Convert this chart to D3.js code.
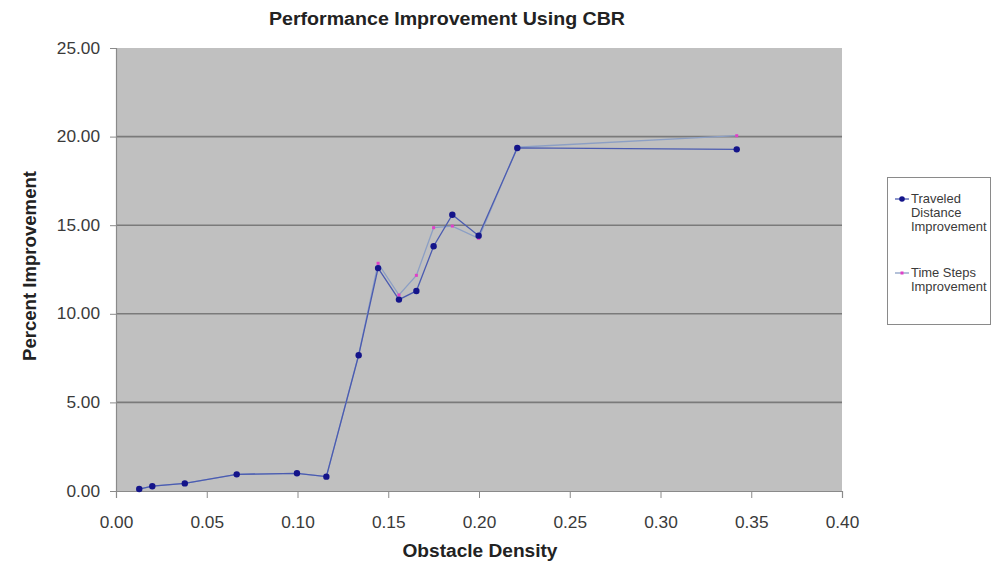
<!DOCTYPE html>
<html>
<head>
<meta charset="utf-8">
<script src="https://cdn.jsdelivr.net/npm/d3@7"></script>
<style>
  html, body { margin: 0; padding: 0; background: #fff; }
  svg { display: block; font-family: "Liberation Sans", Arial, sans-serif; }
</style>
</head>
<body>
<svg id="chart" width="996" height="563"></svg>
<script>
// Obstacle density of each test run
const density = [0.0128, 0.020, 0.0379, 0.0665, 0.0997, 0.1159, 0.1337, 0.1444,
                 0.1559, 0.1655, 0.175, 0.1853, 0.1998, 0.2211, 0.342];
// Percent improvement in traveled distance
const distanceImprovement = [0.11, 0.27, 0.43, 0.94, 1.00, 0.81, 7.66, 12.58,
                             10.80, 11.29, 13.81, 15.59, 14.41, 19.36, 19.28];
// Percent improvement in time steps
const timeStepsImprovement = [0.11, 0.27, 0.43, 0.94, 1.00, 0.81, 7.70, 12.85,
                              11.06, 12.17, 14.86, 14.95, 14.26, 19.40, 20.05];
const xTicks = [0, 0.05, 0.10, 0.15, 0.20, 0.25, 0.30, 0.35, 0.40];
const yTicks = [0, 5, 10, 15, 20, 25];
const seriesNames = [["Traveled", "Distance", "Improvement"], ["Time Steps", "Improvement"]];

const svg = d3.select("#chart");
const plot = { left: 116, top: 48, right: 842, bottom: 491 };
const TEXT_SX = 1.08; // labels are drawn slightly wide

const x = d3.scaleLinear().domain([0, 0.4]).range([plot.left, plot.right]);
const y = d3.scaleLinear().domain([0, 25]).range([plot.bottom, plot.top]);

// widen a text element horizontally about its anchor point
function widen(sel, sx) {
  sel.each(function () {
    const ax = +(this.getAttribute("x") || 0);
    this.setAttribute("transform", `translate(${ax},0) scale(${sx},1) translate(${-ax},0)`);
  });
}

// plot area
svg.append("rect")
  .attr("x", plot.left).attr("y", plot.top)
  .attr("width", plot.right - plot.left).attr("height", plot.bottom - plot.top)
  .attr("fill", "#c0c0c0");

// horizontal gridlines
svg.append("g").selectAll("line")
  .data(yTicks.filter(d => d > 0 && d < 25))
  .join("line")
  .attr("x1", plot.left).attr("x2", plot.right)
  .attr("y1", d => y(d)).attr("y2", d => y(d))
  .attr("stroke", "#7a7a7a").attr("stroke-width", 1.6);

// axes
const yAxis = d3.axisLeft(y).tickValues(yTicks).tickFormat(d3.format(".2f")).tickSize(6).tickPadding(10);
const xAxis = d3.axisBottom(x).tickValues(xTicks).tickFormat(d3.format(".2f")).tickSize(7).tickPadding(18.5);

const gy = svg.append("g").attr("transform", `translate(${plot.left},0)`).call(yAxis);
const gx = svg.append("g").attr("transform", `translate(0,${plot.bottom})`).call(xAxis);
[gx, gy].forEach(g => {
  g.select(".domain").attr("stroke", "#8a8a8a").attr("stroke-width", 1.2);
  g.selectAll(".tick line").attr("stroke", "#8a8a8a");
  g.selectAll(".tick text")
    .attr("font-family", "Liberation Sans, Arial, sans-serif")
    .attr("font-size", 16).attr("fill", "#3a3a3a")
    .call(widen, TEXT_SX);
});

// series lines
const line = vals => d3.line().x((d, i) => x(density[i])).y(d => y(d))(vals);

svg.append("path").attr("d", line(timeStepsImprovement))
  .attr("fill", "none").attr("stroke", "#8c9fc4").attr("stroke-width", 1.3);
svg.append("path").attr("d", line(distanceImprovement))
  .attr("fill", "none").attr("stroke", "#4b5bb0").attr("stroke-width", 1.3);

// markers
svg.append("g").selectAll("rect")
  .data(timeStepsImprovement)
  .join("rect")
  .attr("x", (d, i) => x(density[i]) - 1.5).attr("y", d => y(d) - 1.5)
  .attr("width", 3).attr("height", 3).attr("fill", "#e040c8");
svg.append("g").selectAll("circle")
  .data(distanceImprovement)
  .join("circle")
  .attr("cx", (d, i) => x(density[i])).attr("cy", d => y(d))
  .attr("r", 3.2).attr("fill", "#14148a");

// titles
svg.append("text").attr("x", 447).attr("y", 25)
  .attr("text-anchor", "middle").attr("font-weight", "bold").attr("font-size", 18)
  .attr("textLength", 356).attr("lengthAdjust", "spacingAndGlyphs")
  .attr("fill", "#222").text("Performance Improvement Using CBR");
svg.append("text").attr("x", 480).attr("y", 557)
  .attr("text-anchor", "middle").attr("font-weight", "bold").attr("font-size", 18)
  .attr("textLength", 155).attr("lengthAdjust", "spacingAndGlyphs")
  .attr("fill", "#222").text("Obstacle Density");
svg.append("text").attr("transform", "translate(36,266) rotate(-90)")
  .attr("text-anchor", "middle").attr("font-weight", "bold").attr("font-size", 18)
  .attr("textLength", 190).attr("lengthAdjust", "spacingAndGlyphs")
  .attr("fill", "#222").text("Percent Improvement");

// legend
const lg = svg.append("g");
lg.append("rect").attr("x", 887.5).attr("y", 177.5).attr("width", 103).attr("height", 147)
  .attr("fill", "#fff").attr("stroke", "#8a8a8a");
const entries = [
  { y: 203, names: seriesNames[0], color: "#4b5bb0", marker: "circle" },
  { y: 277, names: seriesNames[1], color: "#8c9fc4", marker: "square" }
];
entries.forEach(e => {
  lg.append("line").attr("x1", 895).attr("x2", 909).attr("y1", e.y - 4).attr("y2", e.y - 4)
    .attr("stroke", e.color).attr("stroke-width", 1.3);
  if (e.marker === "circle") {
    lg.append("circle").attr("cx", 902).attr("cy", e.y - 4).attr("r", 2.8).attr("fill", "#14148a");
  } else {
    lg.append("rect").attr("x", 900.5).attr("y", e.y - 5.5).attr("width", 3).attr("height", 3).attr("fill", "#e040c8");
  }
  const t = lg.append("text").attr("x", 911).attr("y", e.y).attr("font-size", 12).attr("fill", "#3a3a3a");
  e.names.forEach((n, i) => t.append("tspan").attr("x", 911).attr("dy", i ? 14 : 0).text(n));
  widen(t, TEXT_SX);
});
</script>
</body>
</html>
